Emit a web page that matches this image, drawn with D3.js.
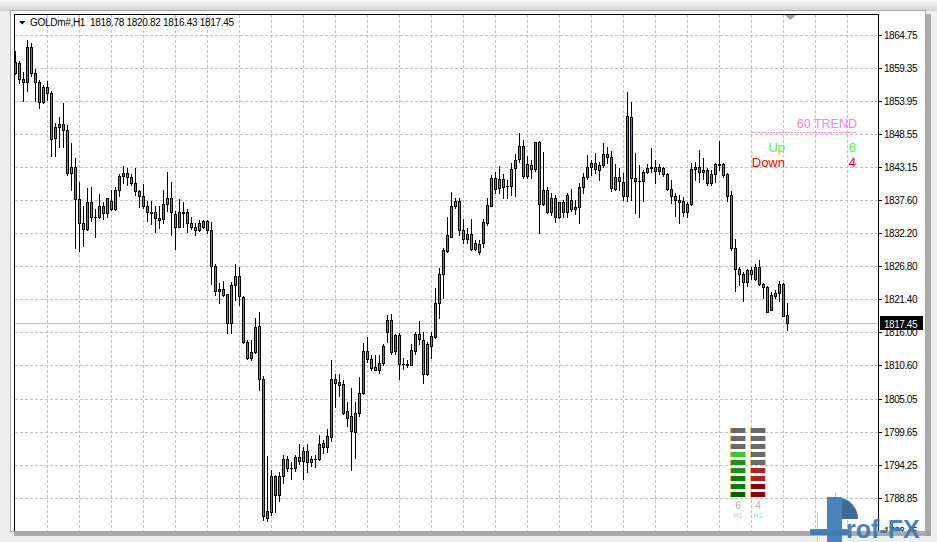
<!DOCTYPE html>
<html><head><meta charset="utf-8">
<script src="https://cdn.jsdelivr.net/npm/d3@7"></script>
<style>html,body{margin:0;padding:0;background:#fff;overflow:hidden} text{white-space:pre}</style>
</head><body><svg id="c" width="937" height="542"></svg>
<script>
const symbol = "GOLDm#,H1";
const opens = [
1858.56,1860.11,1857.48,1857.09,1862.73,1858.56,1856.99,1853.80,1856.17,1855.18,
1847.79,1849.60,1850.09,1849.15,1842.04,1843.13,1837.78,1833.97,1832.95,1837.28,
1834.92,1834.92,1836.67,1835.57,1837.50,1836.23,1839.30,1841.60,1842.04,1841.49,
1840.40,1839.09,1838.37,1836.72,1835.64,1835.64,1834.66,1834.49,1837.00,1837.94,
1835.36,1833.28,1835.64,1835.64,1833.83,1833.18,1832.68,1833.18,1834.21,1832.68,
1826.87,1822.67,1823.05,1822.18,1817.51,1823.65,1825.18,1821.73,1814.39,1811.77,
1812.82,1816.97,1808.27,1785.56,1786.48,1792.46,1789.27,1792.46,1795.25,1793.77,
1793.77,1795.51,1794.85,1796.56,1794.69,1795.25,1795.13,1797.88,1797.15,1798.79,
1808.27,1807.40,1807.45,1803.01,1802.19,1799.62,1802.80,1806.08,1812.98,1811.67,
1810.29,1809.75,1810.94,1816.04,1817.96,1812.98,1815.49,1810.85,1810.68,1810.68,
1812.98,1815.66,1814.67,1809.20,1813.74,1815.21,1820.70,1825.46,1829.34,1831.63,
1836.67,1837.50,1832.73,1831.21,1832.08,1829.57,1830.44,1830.55,1833.83,1836.72,
1841.22,1839.58,1841.11,1840.04,1840.01,1842.87,1844.34,1846.53,1841.65,1843.41,
1842.70,1847.23,1836.95,1839.30,1835.74,1837.94,1834.82,1837.28,1835.74,1837.66,
1836.46,1836.46,1839.75,1841.39,1843.13,1843.69,1842.59,1843.41,1845.16,1844.77,
1839.42,1841.49,1840.67,1838.37,1851.24,1841.32,1840.83,1840.83,1842.31,1843.13,
1843.13,1842.47,1842.87,1841.93,1839.42,1838.37,1837.66,1837.50,1835.74,1837.00,
1842.70,1843.13,1842.59,1842.59,1840.40,1841.93,1843.52,1843.52,1841.88,1838.48,
1829.83,1826.38,1825.46,1824.24,1826.17,1824.64,1826.61,1823.87,1823.42,1819.71,
1821.95,1822.50,1823.82,1818.78];
const highs = [
1862.13,1860.53,1858.73,1863.93,1863.49,1859.12,1857.36,1856.54,1857.20,1855.56,
1850.25,1851.34,1853.54,1849.98,1846.97,1844.51,1840.67,1836.67,1839.63,1839.84,
1836.18,1838.65,1837.28,1838.07,1839.30,1839.79,1841.93,1843.24,1842.91,1841.93,
1842.91,1839.30,1840.29,1837.54,1837.54,1836.72,1836.72,1839.30,1842.26,1840.62,
1835.80,1837.78,1837.28,1836.18,1834.87,1833.83,1834.38,1834.38,1834.38,1833.99,
1827.15,1823.98,1824.31,1822.23,1824.24,1827.15,1826.71,1821.90,1814.67,1814.67,
1818.28,1819.38,1808.76,1795.63,1793.33,1792.50,1793.00,1795.90,1795.63,1794.69,
1795.90,1797.71,1797.15,1797.71,1795.74,1795.79,1799.07,1798.25,1800.17,1811.39,
1809.09,1809.09,1808.10,1804.49,1806.79,1804.49,1808.65,1814.23,1815.21,1812.21,
1812.21,1812.21,1814.13,1818.78,1818.94,1815.77,1815.82,1811.77,1811.39,1814.13,
1816.04,1817.79,1816.04,1814.34,1816.04,1823.16,1826.54,1829.78,1834.92,1838.92,
1837.94,1837.94,1834.49,1833.01,1834.49,1831.09,1831.09,1834.54,1837.94,1841.77,
1842.31,1843.24,1841.88,1840.94,1843.69,1845.16,1848.61,1847.51,1844.93,1844.23,
1847.23,1847.35,1845.59,1839.84,1838.76,1838.48,1837.38,1837.66,1838.76,1839.47,
1837.66,1840.40,1842.04,1845.05,1844.23,1845.33,1843.95,1846.97,1846.31,1845.71,
1843.52,1842.87,1842.04,1855.44,1853.80,1845.33,1843.41,1842.59,1843.57,1846.15,
1844.23,1843.52,1843.13,1842.04,1840.94,1838.76,1838.48,1838.20,1837.38,1843.69,
1843.95,1845.87,1844.51,1842.96,1842.59,1843.69,1847.35,1843.69,1842.04,1839.19,
1831.26,1826.71,1825.89,1826.33,1826.71,1827.10,1827.81,1823.98,1823.49,1822.60,
1822.88,1824.36,1823.98,1820.82];
const lows = [
1858.30,1856.82,1853.97,1855.61,1858.02,1853.97,1852.72,1853.64,1854.08,1844.88,
1844.88,1846.41,1846.41,1841.77,1839.30,1829.73,1829.34,1830.11,1832.73,1834.26,
1831.63,1834.70,1834.54,1834.87,1836.02,1836.02,1838.32,1840.50,1840.12,1840.17,
1838.43,1836.46,1836.30,1834.26,1833.72,1832.45,1833.01,1833.83,1835.80,1831.86,
1829.66,1833.18,1833.28,1832.36,1832.90,1831.86,1832.57,1833.01,1832.19,1823.82,
1822.06,1820.86,1821.90,1815.87,1815.87,1821.24,1820.47,1814.26,1811.55,1811.50,
1812.59,1806.58,1785.23,1785.00,1785.94,1786.48,1788.29,1791.24,1793.16,1791.85,
1793.16,1794.43,1791.85,1793.05,1793.98,1793.87,1794.97,1796.17,1796.33,1798.14,
1803.72,1805.53,1802.52,1800.55,1793.44,1795.35,1802.24,1805.81,1811.06,1809.75,
1809.75,1809.37,1810.57,1814.39,1812.37,1812.49,1808.27,1810.03,1810.29,1810.57,
1812.49,1814.13,1807.66,1808.93,1811.77,1815.00,1818.33,1821.52,1829.12,1831.58,
1836.35,1831.91,1830.65,1830.55,1829.53,1829.45,1828.74,1829.89,1833.56,1836.67,
1838.86,1838.86,1837.94,1838.04,1838.48,1838.37,1843.90,1841.22,1841.22,1841.22,
1842.42,1832.19,1836.84,1835.48,1835.20,1834.10,1834.66,1834.92,1834.82,1835.85,
1835.31,1833.93,1838.76,1841.11,1841.77,1842.04,1840.94,1843.13,1843.74,1839.14,
1839.30,1839.30,1837.66,1837.50,1837.66,1835.57,1834.82,1837.50,1842.09,1842.21,
1840.50,1841.93,1841.65,1839.30,1837.12,1835.03,1833.83,1835.08,1834.92,1836.84,
1840.94,1840.67,1841.06,1840.12,1840.17,1840.67,1842.59,1841.49,1837.50,1829.45,
1822.77,1823.70,1821.08,1823.59,1824.64,1824.52,1823.70,1821.62,1819.22,1819.60,
1821.52,1821.08,1818.61,1816.43];
const closes = [
1860.37,1857.48,1856.99,1862.73,1858.56,1856.99,1853.80,1856.17,1855.18,1847.63,
1849.60,1850.09,1849.15,1842.04,1843.13,1837.78,1833.97,1832.95,1837.28,1834.92,
1834.90,1836.67,1835.48,1837.94,1836.23,1839.30,1841.60,1842.04,1841.49,1840.40,
1839.09,1838.37,1836.72,1835.64,1835.60,1834.66,1834.46,1837.00,1837.94,1835.74,
1833.28,1835.64,1835.60,1833.83,1833.18,1832.68,1833.83,1834.21,1832.68,1826.87,
1822.67,1823.05,1822.11,1817.51,1823.65,1825.18,1821.90,1814.39,1811.77,1812.82,
1816.86,1808.27,1785.89,1786.71,1792.46,1789.27,1792.46,1795.25,1793.77,1793.75,
1795.57,1794.85,1796.45,1794.69,1795.13,1795.22,1797.71,1797.15,1798.91,1808.27,
1807.66,1807.78,1802.74,1801.98,1799.78,1802.80,1806.08,1812.87,1811.60,1810.19,
1809.86,1811.01,1813.74,1817.96,1812.75,1815.49,1810.85,1810.82,1810.70,1813.03,
1815.66,1814.79,1809.20,1814.13,1815.38,1820.80,1825.51,1829.45,1831.91,1836.67,
1837.50,1832.73,1831.21,1832.08,1829.57,1830.55,1829.17,1833.99,1836.84,1841.32,
1839.42,1841.11,1839.84,1840.00,1842.75,1844.23,1846.53,1841.65,1843.52,1842.70,
1847.13,1836.95,1839.30,1835.74,1838.04,1834.82,1837.28,1835.74,1838.48,1836.13,
1836.13,1839.75,1841.39,1843.13,1843.69,1842.70,1843.41,1845.16,1844.77,1839.58,
1841.49,1840.78,1838.37,1851.45,1841.32,1840.83,1840.80,1842.21,1842.87,1842.87,
1842.42,1843.13,1841.88,1839.42,1838.37,1837.66,1837.38,1835.74,1837.00,1842.70,
1843.13,1842.21,1842.21,1840.40,1841.93,1843.52,1843.50,1841.77,1838.37,1829.83,
1826.38,1825.46,1824.24,1826.17,1825.46,1826.61,1823.87,1823.42,1819.32,1822.06,
1822.50,1823.82,1818.66,1817.45];
const priceTicks = ["1864.75","1859.35","1853.95","1848.55","1843.15","1837.60","1832.20",
  "1826.80","1821.40","1816.00","1810.60","1805.05","1799.65","1794.25","1788.85","1783.45"];
const trendTitle = "60 TREND";
const trendLabels = ["Up", "Down"];
const trendCounts = [6, 4];
const upLevels = [0,0,0,4,3,3,2,2,1];     // 0 = inactive
const downLevels = [0,0,0,0,0,2,2,1,1];
const timeframe = "H1";

const svg = d3.select("#c");
const n = opens.length;
const x = d3.scaleLinear().domain([0, n - 1]).range([15.5, 787.5]);
const y = d3.scaleLinear().domain([1864.75, 1788.85]).range([35, 497.6]);
const plot = {l: 14, t: 14, r: 878, b: 531};
const font = "'Liberation Sans', Arial, sans-serif";

// page / window frame
svg.append("rect").attr("width", 937).attr("height", 542).attr("fill", "#efefef");
const defs = svg.append("defs");
const g0 = defs.append("linearGradient").attr("id", "topg").attr("x1",0).attr("y1",0).attr("x2",0).attr("y2",1);
g0.append("stop").attr("offset", 0).attr("stop-color", "#fafafa");
g0.append("stop").attr("offset", 1).attr("stop-color", "#d4d4d4");
svg.append("rect").attr("x", 0).attr("y", 0).attr("width", 937).attr("height", 11).attr("fill", "url(#topg)");
svg.append("rect").attr("x", 926).attr("y", 14).attr("width", 5).attr("height", 522).attr("fill", "#9a9a9a").attr("opacity", 0.8);
svg.append("rect").attr("x", 14).attr("y", 531).attr("width", 917).attr("height", 5).attr("fill", "#9a9a9a").attr("opacity", 0.8);
svg.append("rect").attr("x", 10.5).attr("y", 10.5).attr("width", 915).attr("height", 521).attr("fill", "#fff").attr("stroke", "#a8a8a8");

defs.append("clipPath").attr("id", "pc").append("rect")
  .attr("x", plot.l).attr("y", plot.t).attr("width", plot.r - plot.l).attr("height", plot.b - plot.t);
defs.append("clipPath").attr("id", "wc").append("rect")
  .attr("x", 11).attr("y", 11).attr("width", 914).attr("height", plot.b - 11);
const pg = svg.append("g").attr("clip-path", "url(#pc)");

// grid
const gridColor = "#c0c0c0";
pg.selectAll(".hg").data(priceTicks).join("line")
  .attr("x1", plot.l + 1).attr("x2", plot.r)
  .attr("y1", d => Math.round(y(+d)) + 0.5).attr("y2", d => Math.round(y(+d)) + 0.5)
  .attr("stroke", gridColor).attr("stroke-dasharray", "3,2");
const vIdx = d3.range(8, Math.floor(x.invert(plot.r)), 8);
pg.selectAll(".vg").data(vIdx).join("line")
  .attr("x1", d => Math.floor(x(d)) + 0.5).attr("x2", d => Math.floor(x(d)) + 0.5)
  .attr("y1", plot.t + 1).attr("y2", plot.b)
  .attr("stroke", gridColor).attr("stroke-dasharray", "3,2");

// last price line
const last = closes[n - 1];
const ly = Math.round(y(last)) + 0.5;
pg.append("line").attr("x1", plot.l).attr("x2", plot.r).attr("y1", ly).attr("y2", ly).attr("stroke", "#c0c0c0");

// candles
const bars = d3.range(n).map(i => ({i, o: opens[i], h: highs[i], l: lows[i], c: closes[i]}));
const cg = pg.append("g");
cg.selectAll(".wick").data(bars).join("line")
  .attr("x1", d => x(d.i)).attr("x2", d => x(d.i))
  .attr("y1", d => Math.round(y(d.h))).attr("y2", d => Math.round(y(d.l)) + 1)
  .attr("stroke", "#000");
const bodyTop = d => Math.round(y(Math.max(d.o, d.c)));
const bodyH = d => Math.max(1, Math.round(y(Math.min(d.o, d.c))) - bodyTop(d) + 1);
cg.selectAll(".body").data(bars).join("rect")
  .attr("x", d => x(d.i) - 1.5).attr("width", 3)
  .attr("y", bodyTop).attr("height", bodyH)
  .attr("fill", "#000");
cg.selectAll(".fill").data(bars.filter(d => bodyH(d) > 2)).join("rect")
  .attr("x", d => x(d.i) - 0.5).attr("width", 1)
  .attr("y", d => bodyTop(d) + 1).attr("height", d => bodyH(d) - 2)
  .attr("fill", d => d.c >= d.o ? "#2e9c8c" : "#e0584a");

// frame
svg.append("line").attr("x1", plot.l).attr("x2", plot.r + 1).attr("y1", plot.t + 0.5).attr("y2", plot.t + 0.5).attr("stroke", "#000");
svg.append("line").attr("x1", plot.l + 0.5).attr("x2", plot.l + 0.5).attr("y1", plot.t).attr("y2", plot.b).attr("stroke", "#000");
svg.append("line").attr("x1", plot.r + 0.5).attr("x2", plot.r + 0.5).attr("y1", plot.t).attr("y2", plot.b).attr("stroke", "#000");

// price axis
const ax = svg.append("g").attr("clip-path", "url(#wc)");
ax.selectAll(".tk").data(priceTicks).join("line")
  .attr("x1", plot.r).attr("x2", plot.r + 4)
  .attr("y1", d => Math.round(y(+d)) + 0.5).attr("y2", d => Math.round(y(+d)) + 0.5)
  .attr("stroke", "#000");
ax.selectAll(".tl").data(priceTicks).join("text")
  .attr("x", plot.r + 6).attr("y", d => Math.round(y(+d)) + 4)
  .attr("font-family", font).attr("font-size", "10px").attr("letter-spacing", "-0.45px")
  .attr("fill", "#000").text(d => d);
ax.append("rect").attr("x", plot.r + 2).attr("y", ly - 7.5).attr("width", 43).attr("height", 14).attr("fill", "#000");
ax.append("text").attr("x", plot.r + 6).attr("y", ly + 4)
  .attr("font-family", font).attr("font-size", "10px").attr("letter-spacing", "-0.45px")
  .attr("fill", "#fff").text(last.toFixed(2));

// header
svg.append("path").attr("d", "M19,21 L25.5,21 L22.25,24.5 Z").attr("fill", "#000");
svg.append("text").attr("x", 30).attr("y", 26).attr("xml:space", "preserve")
  .attr("font-family", font).attr("font-size", "10px").attr("letter-spacing", "-0.3px").attr("fill", "#000")
  .text(`${symbol}  ${opens[n-1].toFixed(2)} ${highs[n-1].toFixed(2)} ${lows[n-1].toFixed(2)} ${closes[n-1].toFixed(2)}`);

// chart shift marker
svg.append("path").attr("d", "M785,15 L796,15 L790.5,20 Z").attr("fill", "#a0a0a0");

// trend panel
svg.append("text").attr("x", 857).attr("y", 128).attr("text-anchor", "end")
  .attr("font-family", font).attr("font-size", "12.5px").attr("fill", "violet").text(trendTitle);
svg.append("line").attr("x1", 752).attr("x2", 857).attr("y1", 132.5).attr("y2", 132.5)
  .attr("stroke", "violet").attr("stroke-dasharray", "2,1");
const tColors = ["#55f52a", "#ff0000"];
trendLabels.forEach((lab, k) => {
  const by = 152 + k * 15;
  svg.append("text").attr("x", 785).attr("y", by).attr("text-anchor", "end")
    .attr("font-family", font).attr("font-size", "13px").attr("fill", tColors[k]).text(lab);
  svg.append("text").attr("x", 856).attr("y", by).attr("text-anchor", "end")
    .attr("font-family", font).attr("font-size", "13px").attr("fill", tColors[k]).text(trendCounts[k]);
});

// strength meter
const upPal = ["#696969", "#006400", "#008000", "#228b22", "#32cd32"];
const dnPal = ["#696969", "#8b0000", "#b22222"];
[[upLevels, upPal, 730], [downLevels, dnPal, 750]].forEach(([lv, pal, x0], k) => {
  const gm = svg.append("g");
  gm.selectAll("rect.m").data(lv).join("rect")
    .attr("x", x0 + 1).attr("y", (d, r) => 428 + r * 8).attr("width", 14).attr("height", 5)
    .attr("fill", d => pal[d]);
  gm.selectAll("rect.l").data(lv).join("rect")
    .attr("x", x0).attr("y", (d, r) => 428 + r * 8).attr("width", 1).attr("height", 5).attr("fill", "#f5b041");
  gm.selectAll("rect.r").data(lv).join("rect")
    .attr("x", x0 + 15).attr("y", (d, r) => 428 + r * 8).attr("width", 1).attr("height", 5).attr("fill", "#8fd3ff");
  svg.append("text").attr("x", x0 + 8).attr("y", 509).attr("text-anchor", "middle")
    .attr("font-family", font).attr("font-size", "10px").attr("fill", "#b0b0b0").text(trendCounts[k]);
  svg.append("text").attr("x", x0 + 8).attr("y", 518).attr("text-anchor", "middle")
    .attr("font-family", font).attr("font-size", "7px").attr("fill", "#87cefa").text(timeframe);
});

// watermark logo
const lg = svg.append("g").attr("opacity", 0.92);
lg.append("line").attr("x1", 817.5).attr("x2", 817.5).attr("y1", 512).attr("y2", 542).attr("stroke", "#a8c8e0");
lg.append("line").attr("x1", 835.5).attr("x2", 835.5).attr("y1", 492).attr("y2", 542).attr("stroke", "#a8c8e0");
lg.append("rect").attr("x", 810).attr("y", 529).attr("width", 40).attr("height", 6).attr("fill", "#3a7ab5");
lg.append("path").attr("d", "M836,497 A22,22 0 0 1 858,519 L836,519 Z").attr("fill", "#2d5f8c");
lg.append("rect").attr("x", 827).attr("y", 497).attr("width", 15).attr("height", 45).attr("fill", "#3a7ab5");
lg.append("text").attr("x", 846).attr("y", 538).attr("font-family", font).attr("font-weight", "bold")
  .attr("font-size", "25px").attr("fill", "#3a7ab5").text("rof-FX");
</script></body></html>
